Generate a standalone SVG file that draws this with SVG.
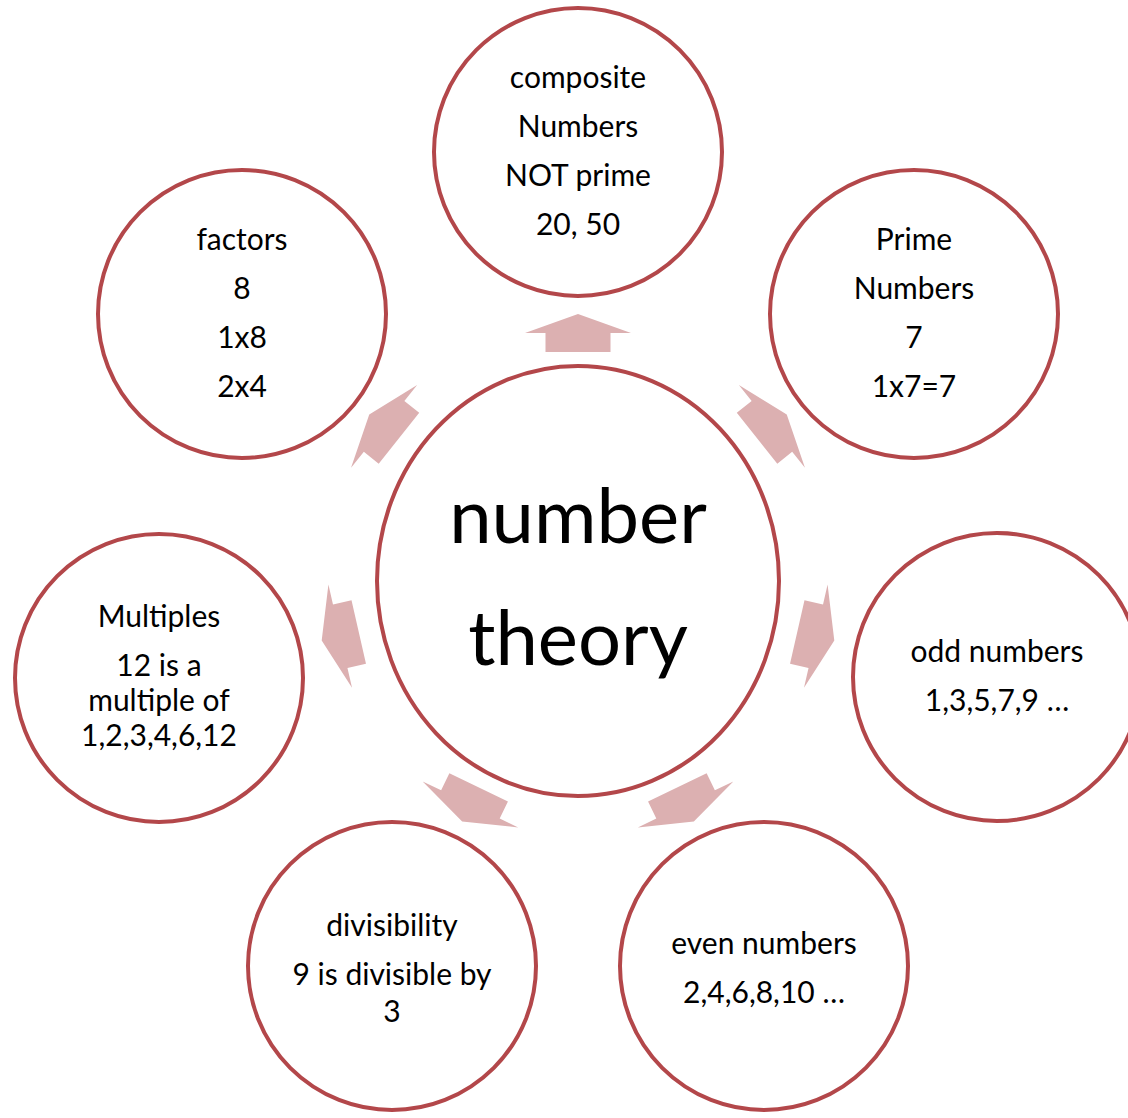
<svg xmlns="http://www.w3.org/2000/svg" width="1128" height="1118" viewBox="0 0 1128 1118">
<style>
.c{fill:#fff;stroke:#b3474a;stroke-width:4}
.t{font-family:Lato,"Open Sans","Liberation Sans",sans-serif;font-size:30px;fill:#000;text-anchor:middle}
.big{font-family:Lato,"Open Sans","Liberation Sans",sans-serif;font-size:76px;fill:#000;text-anchor:middle}
.a{fill:#dcb0b1}
</style>
<defs>
<path id="arr" d="M0,-19 L53,0 L32.5,0 L32.5,19 L-32.5,19 L-32.5,0 L-53,0 Z" transform="translate(578,333)"/>
</defs>
<rect width="1128" height="1118" fill="#fff"/>
<g id="connectors">
<use href="#arr" class="a"/>
<use href="#arr" class="a" transform="rotate(51.43 578 581)"/>
<use href="#arr" class="a" transform="translate(-4 0) rotate(102.86 578 581)"/>
<use href="#arr" class="a" transform="rotate(154.29 578 581)"/>
<use href="#arr" class="a" transform="rotate(205.71 578 581)"/>
<use href="#arr" class="a" transform="translate(4 0) rotate(257.14 578 581)"/>
<use href="#arr" class="a" transform="rotate(308.57 578 581)"/>
</g>
<g id="center">
<ellipse class="c" cx="578" cy="581" rx="201" ry="215"/>
<text class="big" x="578" y="543">number</text>
<text class="big" x="578" y="665">theory</text>
</g>
<g id="composite">
<circle class="c" cx="578" cy="152" r="144"/>
<text class="t" x="578" y="88">composite</text>
<text class="t" x="578" y="137">Numbers</text>
<text class="t" x="578" y="186">NOT prime</text>
<text class="t" x="578" y="235">20, 50</text>
</g>
<g id="prime">
<circle class="c" cx="914" cy="314" r="144"/>
<text class="t" x="914" y="250">Prime</text>
<text class="t" x="914" y="299">Numbers</text>
<text class="t" x="914" y="348">7</text>
<text class="t" x="914" y="397">1x7=7</text>
</g>
<g id="odd">
<circle class="c" cx="997" cy="677" r="144"/>
<text class="t" x="997" y="662">odd numbers</text>
<text class="t" x="997" y="711">1,3,5,7,9 …</text>
</g>
<g id="even">
<circle class="c" cx="764" cy="966" r="144"/>
<text class="t" x="764" y="954">even numbers</text>
<text class="t" x="764" y="1003">2,4,6,8,10 …</text>
</g>
<g id="divisibility">
<circle class="c" cx="392" cy="966" r="144"/>
<text class="t" x="392" y="936">divisibility</text>
<text class="t" x="392" y="985">9 is divisible by</text>
<text class="t" x="392" y="1022">3</text>
</g>
<g id="multiples">
<circle class="c" cx="159" cy="678" r="144"/>
<text class="t" x="159" y="627">Multiples</text>
<text class="t" x="159" y="676">12 is a</text>
<text class="t" x="159" y="711">multiple of</text>
<text class="t" x="159" y="746">1,2,3,4,6,12</text>
</g>
<g id="factors">
<circle class="c" cx="242" cy="314" r="144"/>
<text class="t" x="242" y="250">factors</text>
<text class="t" x="242" y="299">8</text>
<text class="t" x="242" y="348">1x8</text>
<text class="t" x="242" y="397">2x4</text>
</g>
</svg>
